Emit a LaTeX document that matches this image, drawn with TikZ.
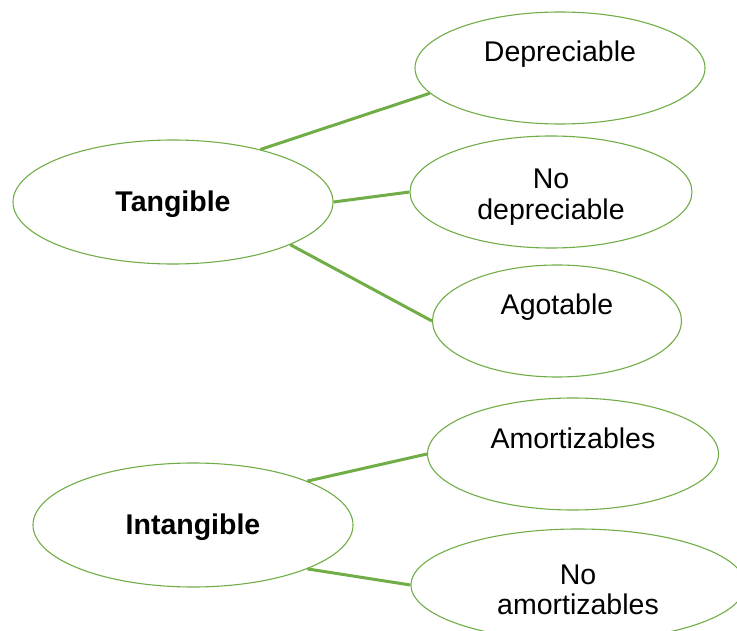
\documentclass[tikz,border=0pt]{standalone}
\usepackage{fontspec}
\setmainfont{Liberation Sans}
\usetikzlibrary{shapes.geometric}
\definecolor{leafgreen}{RGB}{112,173,71}
\tikzset{
  root/.style={ellipse,draw=leafgreen,line width=1.1pt,inner sep=0pt,text height=26pt,
    minimum width=320pt,minimum height=124pt,font=\bfseries\fontsize{28.5}{31}\selectfont},
  leaf/.style={ellipse,draw=leafgreen,line width=1.1pt,inner sep=0pt,align=center,
    minimum height=112pt,font=\fontsize{28.5}{30.5}\selectfont},
  toptext/.style={text height=21pt,text depth=33pt},
  lowtext/.style={text height=60pt},
  link/.style={draw=leafgreen,line width=3pt}
}
\begin{document}
\begin{tikzpicture}[x=1pt,y=-1pt]
        \useasboundingbox (0,0) rectangle (737,631);
        % activos tangibles
        \node[root] (tang) at (173,202) {Tangible};
        \node[leaf,toptext,minimum width=290pt] (dep) at (560,68) {Depreciable};
        \node[leaf,lowtext,minimum width=282pt] (nodep) at (551,192) {No\\depreciable};
        \node[leaf,toptext,minimum width=249pt] (agot) at (557,321) {Agotable};
        \draw[link] (tang.31)--(dep.191);
        \draw[link] (tang.0)--(nodep.180);
        \draw[link] (tang.-20)--(agot.180);
        % activos intangibles
        \node[root] (intang) at (193,525) {Intangible};
        \node[leaf,toptext,minimum width=291pt] (amort) at (573,454) {Amortizables};
        \node[leaf,lowtext,minimum width=334pt] (noamort) at (578,585) {No\\amortizables};
        \draw[link] (intang.21)--(amort.180);
        \draw[link] (intang.-21)--(noamort.180);
    \end{tikzpicture}
\end{document}
